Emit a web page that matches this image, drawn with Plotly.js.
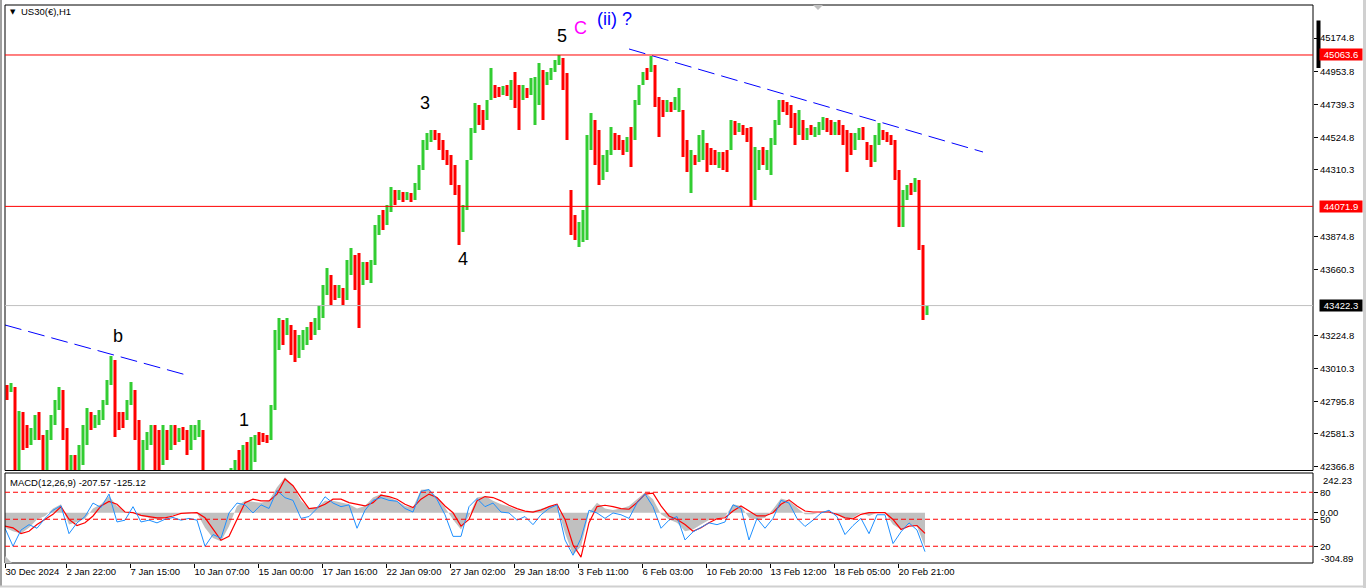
<!DOCTYPE html>
<html><head><meta charset="utf-8">
<script src="https://cdn.plot.ly/plotly-3.0.1.min.js"></script>
<style>html,body{margin:0;padding:0;background:#fff;overflow:hidden}#chart{width:1366px;height:588px}</style>
</head><body><div id="chart"></div>
<script>
// ---- price bars (each bar = 4 hourly bars; open at one extreme, close at the other) ----
const barOpen = [
42902,42856,42889,42293,42725,42640,42509,42542,42725,42574,
42293,42542,42640,42738,42869,42620,42293,42443,42345,42378,
42509,42725,42620,42640,42673,42771,42902,43066,42725,42725,
42673,42771,42869,42673,42345,42476,42509,42640,42607,42378,
42607,42476,42640,42529,42627,42607,42476,42542,42561,42607,
42332,42116,42293,42149,42181,42345,42214,42293,42476,42293,
42529,42293,42398,42594,42588,42574,42542,42738,43131,43328,
43229,43295,43262,43079,43131,43164,43315,43229,43262,43341,
43491,43622,43557,43472,43537,43459,43622,43753,43767,43557,
43708,43570,43688,43884,44048,43950,44035,44179,44114,44166,
44114,44160,44114,44179,44310,44441,44494,44572,44553,44507,
44441,44408,44343,44212,43904,44048,44376,44553,44736,44703,
44638,44769,44867,44854,44801,44867,44769,44952,44867,44769,
44847,44801,44605,44736,44965,44867,44900,44952,44998,45044,
44946,44179,44015,43806,43839,43852,44441,44638,44572,44245,
44297,44408,44553,44539,44507,44428,44592,44507,44736,44867,
44978,44952,44998,44788,44769,44690,44756,44703,44690,44703,
44507,44160,44408,44363,44376,44487,44454,44441,44323,44428,
44441,44441,44631,44559,44605,44585,44592,44114,44310,44461,
44310,44277,44474,44605,44769,44756,44736,44684,44539,44638,
44507,44605,44526,44539,44572,44651,44638,44539,44638,44605,
44572,44553,44441,44507,44592,44494,44474,44363,44474,44572,
44559,44539,44507,44310,43937,44114,44225,44166,44245,43819,
43360];
const barClose = [
42804,42915,42293,42732,42476,42489,42620,42705,42542,42293,
42607,42705,42804,42889,42542,42293,42443,42293,42509,42640,
42751,42607,42705,42738,42804,42935,43092,42561,42607,42620,
42804,42922,42542,42293,42542,42594,42640,42293,42345,42640,
42411,42640,42509,42620,42542,42443,42640,42640,42673,42293,
42149,42312,42116,42312,42332,42201,42358,42411,42293,42509,
42293,42561,42574,42509,42529,42522,42771,43262,43341,43164,
43341,43098,43053,43229,43262,43282,43197,43341,43426,43557,
43668,43426,43459,43557,43426,43721,43799,43524,43275,43708,
43590,43721,43950,44015,43917,44081,44199,44081,44179,44101,
44166,44101,44225,44343,44507,44553,44572,44507,44441,44376,
44343,44212,44146,43819,44081,44376,44585,44749,44605,44572,
44769,44978,44782,44788,44860,44795,44900,44716,44572,44867,
44782,44913,44919,45011,44638,44952,44978,45031,45063,44834,
44507,43884,43852,43970,44048,44539,44684,44343,44212,44408,
44441,44592,44441,44441,44408,44526,44330,44769,44867,44952,
44900,45057,44723,44526,44657,44769,44690,44788,44847,44395,
44297,44441,44343,44539,44572,44297,44343,44343,44428,44310,
44297,44638,44539,44618,44539,44494,44068,44461,44441,44343,
44441,44520,44638,44769,44690,44670,44585,44474,44703,44507,
44585,44539,44592,44625,44657,44559,44539,44625,44539,44474,
44297,44408,44553,44585,44507,44376,44330,44539,44618,44507,
44494,44474,44245,43937,44179,44212,44146,44258,43786,43328,
43422.3];

// ---- MACD(12,26,9) panel, one value every 8 hourly bars ----
const macdMain = [
-91,-112,-126,-91,-40,-19,26,52,-71,-56,
-36,26,52,103,42,5,5,-19,-30,-40,
-30,-15,1,5,-3,-91,-153,-173,-81,42,
73,67,62,73,155,216,165,73,26,32,
73,73,62,52,26,42,93,114,93,73,
42,32,140,144,93,32,-40,-101,-19,93,
103,73,52,38,17,5,11,26,38,46,
-122,-255,-204,1,62,26,17,26,42,83,
124,83,-9,-40,-60,-112,-101,-71,-44,-36,
-24,52,42,-30,-40,-30,22,87,73,32,
-9,-9,5,11,-9,-40,-30,1,-19,1,
1,-71,-101,-71,-81,-207.57];
const macdSignal = [
-81,-91,-126,-112,-71,-40,-9,38,-40,-77,
-60,-19,42,69,52,5,1,-15,-24,-30,
-30,-19,-3,1,1,-30,-97,-167,-142,-40,
62,83,73,73,114,206,165,93,26,32,
52,83,83,62,52,42,62,108,99,83,
52,32,83,114,93,42,1,-81,-40,73,
99,93,73,46,26,11,5,17,38,52,
-40,-194,-269,-60,38,46,38,26,22,62,
114,120,42,-19,-40,-71,-112,-91,-60,-36,
-30,11,42,11,-19,-19,1,52,79,42,
11,5,5,5,-9,-30,-36,-9,1,1,
1,-40,-101,-81,-77,-125.12];
const oscLine = [
40,20,38,44,40,51,60,65,34,46,
53,68,63,78,47,49,64,47,49,46,
50,52,49,51,49,20,33,29,57,68,
66,57,66,62,82,74,71,51,53,62,
75,68,64,66,40,60,71,74,71,70,
62,58,81,83,72,55,31,31,64,73,
64,68,58,57,49,53,44,55,62,66,
27,10,29,60,57,51,57,55,51,68,
78,64,40,49,53,27,36,41,46,44,
47,66,62,27,51,40,51,71,68,51,
42,49,57,60,53,33,43,51,34,55,
55,23,36,46,38,14];

// ---- ticks, levels, drawn lines ----
const priceTicks = [45174.8,44953.8,44739.3,44524.8,44310.3,43874.8,43660.3,43224.8,43010.3,42795.8,42581.3,42366.8];
const timeTickIdx = [0,61,125,189,253,317,381,445,509,573,637,701,765,829,893];
const timeTickLabels = ['30 Dec 2024','2 Jan 22:00','7 Jan 15:00','10 Jan 07:00','15 Jan 00:00','17 Jan 16:00','22 Jan 09:00','27 Jan 02:00','29 Jan 18:00','3 Feb 11:00','6 Feb 03:00','10 Feb 20:00','13 Feb 12:00','18 Feb 05:00','20 Feb 21:00'];
const levelPrices = [45063.6, 44071.9];
const bidPrice = 43422.3;
const oscLevels = [80, 50, 20];
const macdScale = [242.23, -304.89];
const trend1X = [0, 185], trend1Y = [43295, 42961];
const trend2X = [624, 978], trend2Y = [45103, 44428];

const BAR_STEP = 4, MACD_STEP = 8;
const barX = barOpen.map((_, i) => i * BAR_STEP + 2);
const barHigh = barOpen.map((o, i) => Math.max(o, barClose[i]));
const barLow = barOpen.map((o, i) => Math.min(o, barClose[i]));
const macdX = macdMain.map((_, i) => i * MACD_STEP);

const FONT = '"Liberation Sans", Arial, sans-serif';
const traces = [
  {type:'ohlc', x:barX, open:barOpen, high:barHigh, low:barLow, close:barClose,
   xaxis:'x', yaxis:'y', tickwidth:0, hoverinfo:'skip',
   increasing:{line:{color:'#32CD32', width:3}}, decreasing:{line:{color:'#FF0000', width:3}}},
  {type:'scatter', mode:'lines', x:trend1X, y:trend1Y, xaxis:'x', yaxis:'y',
   line:{color:'#0000FF', width:1, dash:'17px,7px'}, hoverinfo:'skip'},
  {type:'scatter', mode:'lines', x:trend2X, y:trend2Y, xaxis:'x', yaxis:'y',
   line:{color:'#0000FF', width:1, dash:'17px,7px'}, hoverinfo:'skip'},
  {type:'scatter', mode:'lines', x:macdX, y:macdMain, xaxis:'x', yaxis:'y2', fill:'tozeroy',
   fillcolor:'#C0C0C0', line:{color:'#C0C0C0', width:0}, hoverinfo:'skip'},
  {type:'scatter', mode:'lines', x:macdX, y:macdSignal, xaxis:'x', yaxis:'y2',
   line:{color:'#FF0000', width:1.2}, hoverinfo:'skip'},
  {type:'scatter', mode:'lines', x:macdX, y:oscLine, xaxis:'x', yaxis:'y3',
   line:{color:'#1E90FF', width:1}, hoverinfo:'skip'}
];

// pixel -> paper helpers for chrome elements
const PL = 5, PW = 1308, PB = 563, PH = 558;
const px = v => (v - PL) / PW;
const py = v => (PB - v) / PH;

const shapes = [
  {type:'rect', xref:'paper', yref:'paper', x0:0, x1:1, y0:py(470.5), y1:1, line:{color:'#000', width:1}},
  {type:'rect', xref:'paper', yref:'paper', x0:0, x1:1, y0:0, y1:py(473), line:{color:'#000', width:1}},
  ...levelPrices.map(v => ({type:'line', xref:'paper', x0:0, x1:1, yref:'y', y0:v, y1:v, line:{color:'#FF0000', width:1}})),
  {type:'line', xref:'paper', x0:0, x1:1, yref:'y', y0:bidPrice, y1:bidPrice, line:{color:'#C0C0C0', width:1}},
  ...oscLevels.map(v => ({type:'line', xref:'paper', x0:0, x1:1, yref:'y3', y0:v, y1:v, line:{color:'#FF0000', width:1, dash:'5px,3px'}})),
  {type:'line', xref:'paper', yref:'paper', x0:px(1318.5), x1:px(1318.5), y0:py(20.5), y1:py(68), line:{color:'#000', width:4}},
  {type:'path', xref:'paper', yref:'paper', path:`M ${px(813)} ${py(5)} L ${px(823)} ${py(5)} L ${px(818)} ${py(10)} Z`, fillcolor:'#C0C0C0', line:{width:0}},
  {type:'path', xref:'paper', yref:'paper', path:`M ${px(5)} ${py(556)} L ${px(5)} ${py(563)} L ${px(12)} ${py(563)} Z`, fillcolor:'#C0C0C0', line:{width:0}},
  {type:'line', xref:'paper', yref:'paper', x0:px(1), x1:px(1), y0:py(0), y1:py(586), line:{color:'#A0A0A0', width:2}},
  {type:'line', xref:'paper', yref:'paper', x0:px(0), x1:px(1366), y0:py(586.5), y1:py(586.5), line:{color:'#D0D0D0', width:2}},
  {type:'line', xref:'paper', yref:'paper', x0:px(1364.5), x1:px(1364.5), y0:py(0), y1:py(588), line:{color:'#D0D0D0', width:3}}
];

const tag = (v, bg) => ({xref:'paper', yref:'y', x:px(1319), y:v, xanchor:'left', yanchor:'middle',
  text:v.toFixed(1), showarrow:false, bgcolor:bg, width:42, height:11, borderpad:0,
  font:{family:FONT, size:9.5, color:'#FFFFFF'}});
const wave = (t, x, y, color) => ({xref:'x', yref:'y', x:x, y:y, text:t, showarrow:false,
  xanchor:'center', yanchor:'middle', font:{family:FONT, size:18, color:color}});

const annotations = [
  {xref:'paper', yref:'paper', x:px(8), y:py(12), xanchor:'left', yanchor:'middle', text:'▼', showarrow:false, font:{family:'DejaVu Sans', size:7, color:'#000'}},
  {xref:'paper', yref:'paper', x:px(19), y:py(12), xanchor:'left', yanchor:'middle', text:'US30(€),H1', showarrow:false, font:{family:FONT, size:9.5, color:'#000'}},
  {xref:'paper', yref:'paper', x:px(8), y:py(482), xanchor:'left', yanchor:'middle',
   text:`MACD(12,26,9) ${macdMain[macdMain.length-1].toFixed(2)} ${macdSignal[macdSignal.length-1].toFixed(2)}`,
   showarrow:false, font:{family:FONT, size:9.5, color:'#000'}},
  ...levelPrices.map(v => tag(v, '#FF0000')),
  tag(bidPrice, '#000000'),
  {xref:'paper', yref:'paper', x:px(1321), y:py(480), xanchor:'left', yanchor:'middle', text:macdScale[0].toFixed(2), showarrow:false, font:{family:FONT, size:9.5, color:'#000'}},
  {xref:'paper', yref:'paper', x:px(1319), y:py(558), xanchor:'left', yanchor:'middle', text:macdScale[1].toFixed(2), showarrow:false, font:{family:FONT, size:9.5, color:'#000'}},
  wave('b', 113, 43223, '#000'),
  wave('1', 239, 42673, '#000'),
  wave('3', 420, 44749, '#000'),
  wave('4', 458, 43727, '#000'),
  wave('5', 557, 45191, '#000'),
  wave('C', 575, 45240, '#FF00FF'),
  wave('(ii) ?', 609, 45299, '#0000FF')
];

const axisFont = {family:FONT, size:9.5, color:'#000'};
const layout = {
  width:1366, height:588,
  margin:{l:PL, r:1366 - PL - PW, t:5, b:588 - PB},
  paper_bgcolor:'#FFFFFF', plot_bgcolor:'#FFFFFF',
  showlegend:false, hovermode:false, dragmode:false,
  font:axisFont,
  xaxis:{domain:[0,1], range:[0, PW], anchor:'y2', tickvals:timeTickIdx, ticktext:timeTickLabels,
    ticks:'outside', ticklen:4, tickcolor:'#000', ticklabelposition:'outside right', tickangle:0, tickfont:axisFont,
    showgrid:false, zeroline:false, showline:false, rangeslider:{visible:false}, fixedrange:true},
  yaxis:{domain:[py(470.5), 1], range:[42342, 45391], side:'right', anchor:'x',
    tickvals:priceTicks, ticktext:priceTicks.map(v => v.toFixed(1)), ticks:'outside', ticklen:4, tickcolor:'#000',
    tickfont:axisFont, showgrid:false, zeroline:false, showline:false, fixedrange:true},
  yaxis2:{domain:[0, py(473)], range:[-304.89, 242.23], side:'right', anchor:'x',
    tickvals:[0], ticktext:['0.00'], ticks:'outside', ticklen:4, tickcolor:'#000', tickfont:axisFont,
    showgrid:false, zeroline:false, showline:false, fixedrange:true},
  yaxis3:{overlaying:'y2', range:[1.4, 101.4], side:'right', anchor:'x',
    tickvals:oscLevels, ticktext:oscLevels.map(String), ticks:'outside', ticklen:4, tickcolor:'#000', tickfont:axisFont,
    showgrid:false, zeroline:false, showline:false, fixedrange:true},
  shapes:shapes,
  annotations:annotations
};

Plotly.newPlot('chart', traces, layout, {staticPlot:true, displayModeBar:false});
</script>
</body></html>
